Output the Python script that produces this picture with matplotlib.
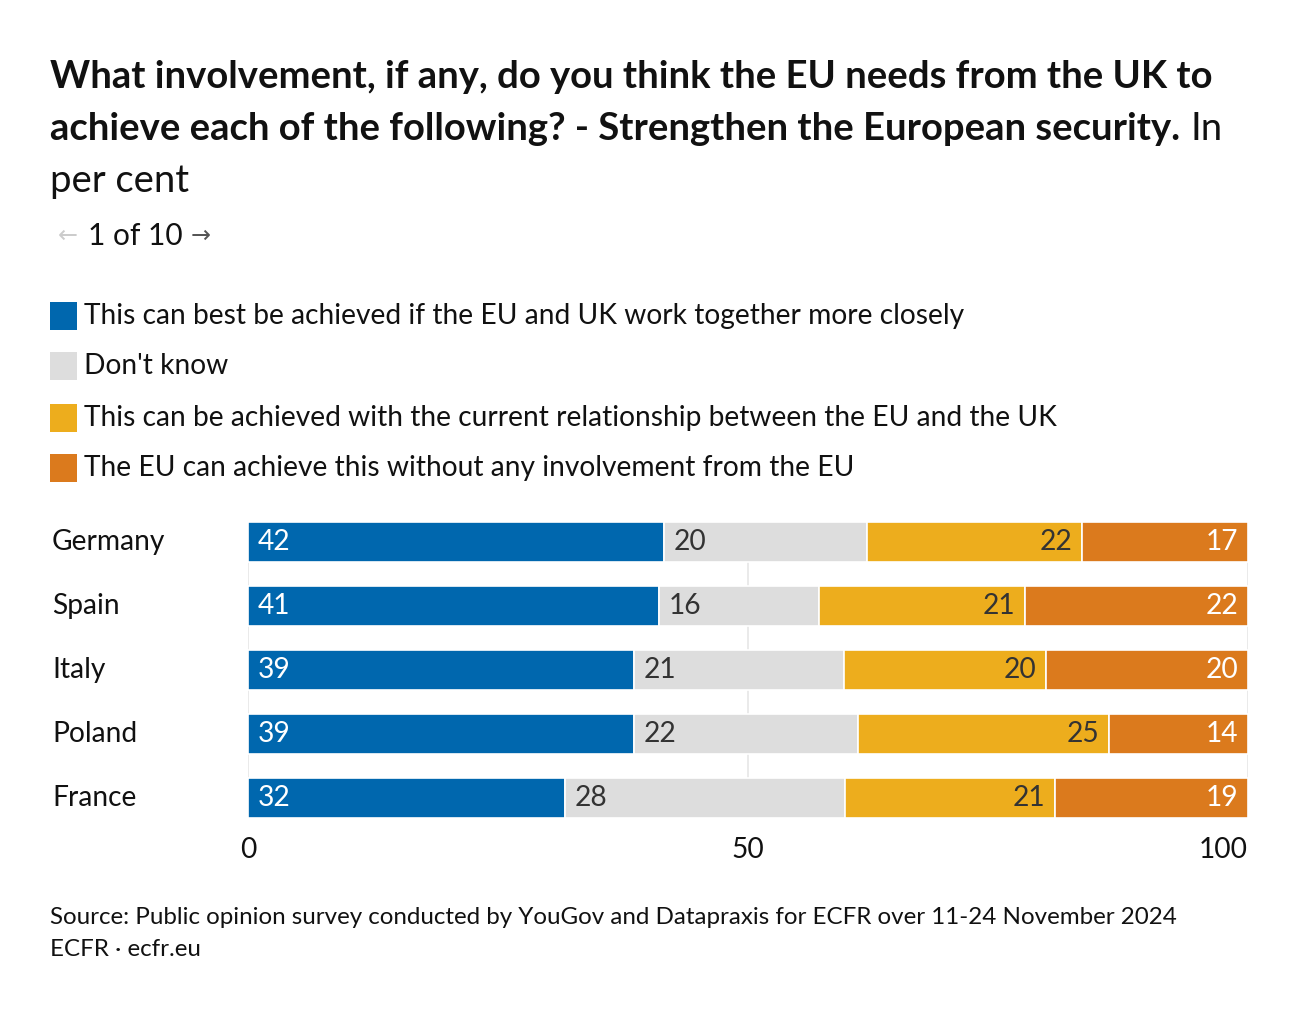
import matplotlib
matplotlib.use("Agg")
import matplotlib.pyplot as plt
import numpy as np
from matplotlib.patches import Rectangle

plt.rcParams['font.family'] = ['Lato', 'DejaVu Sans']

countries = ["Germany", "Spain", "Italy", "Poland", "France"]
series_names = [
    "This can best be achieved if the EU and UK work together more closely",
    "Don't know",
    "This can be achieved with the current relationship between the EU and the UK",
    "The EU can achieve this without any involvement from the EU",
]
closer = [41.6, 41.1, 38.6, 38.6, 31.7]
dont_know = [20.3, 16.0, 21.0, 22.4, 28.0]
current = [21.5, 20.6, 20.2, 25.1, 21.0]
without = [16.6, 22.3, 20.2, 13.9, 19.3]
xticks = [0, 50, 100]

title_bold_1 = "What involvement, if any, do you think the EU needs from the UK to"
title_bold_2 = "achieve each of the following? - Strengthen the European security."
title_reg = "In"
title_reg_2 = "per cent"
pager = "1 of 10"
source = "Source: Public opinion survey conducted by YouGov and Datapraxis for ECFR over 11-24 November 2024"
credit = "ECFR · ecfr.eu"

colors = ["#0067AE", "#DDDDDD", "#EDAD1D", "#DB7A1D"]
label_colors = ["white", "#333333", "#333333", "white"]
TXT = "#111111"

W, H = 1300, 1016
fig = plt.figure(figsize=(W / 100, H / 100), dpi=100)
renderer = fig.canvas.get_renderer()

def px(x, y):
    return x / W, 1 - y / H

def width_px(t):
    return t.get_window_extent(renderer=renderer).width

def fit_size(s, target, weight="normal", base=20):
    t = fig.text(0, 0, s, fontsize=base, fontweight=weight)
    w = width_px(t)
    t.remove()
    return base * target / w

# Title
ts = fit_size(title_bold_1, 1162, weight="bold")
fig.text(*px(50, 77), title_bold_1, fontsize=ts, fontweight="bold", color=TXT, va="center", ha="left")
t2 = fig.text(*px(50, 129), title_bold_2, fontsize=ts, fontweight="bold", color=TXT, va="center", ha="left")
w2 = width_px(t2)
fig.text((50 + w2 + 10) / W, 1 - 129 / H, title_reg, fontsize=ts, color=TXT, va="center", ha="left")
fig.text(*px(50, 181), title_reg_2, fontsize=ts, color=TXT, va="center", ha="left")

# Pager
ps = ts * 0.78
a1 = fig.text(*px(58, 236), "←", fontsize=ps * 0.8, color="#cccccc", va="center", ha="left",
              family="DejaVu Sans")
pt = fig.text(*px(88, 236), pager, fontsize=ps, color=TXT, va="center", ha="left")
wp = width_px(pt)
fig.text((88 + wp + 8) / W, 1 - 236 / H, "→", fontsize=ps * 0.8, color="#555555", va="center",
         ha="left", family="DejaVu Sans")

# Legend
ls = fit_size(series_names[0], 879)
leg_y = [316, 366, 418, 468]
for name, c, y in zip(series_names, colors, leg_y):
    fig.patches.append(Rectangle(px(50, y + 14), 27 / W, 28 / H, transform=fig.transFigure,
                                 facecolor=c, edgecolor="none"))
    fig.text(*px(84, y), name, fontsize=ls, color=TXT, va="center", ha="left")

# Bars
left, right = 248, 1248
top, bottom = 522, 818
ax = fig.add_axes([left / W, 1 - bottom / H, (right - left) / W, (bottom - top) / H])
y = np.arange(len(countries))
data = [closer, dont_know, current, without]
starts = np.zeros(len(countries))
for k, (vals, c) in enumerate(zip(data, colors)):
    vals = np.array(vals)
    ax.barh(y, vals, left=starts, height=0.625, color=c, edgecolor="white", linewidth=1.2, zorder=2)
    for i in range(len(countries)):
        v = vals[i]
        if k < 2:
            ax.text(starts[i] + 1.0, y[i], f"{int(v + 0.5):d}", ha="left", va="center",
                    fontsize=ls * 1.0, color=label_colors[k], zorder=3)
        else:
            ax.text(starts[i] + v - 1.0, y[i], f"{int(v + 0.5):d}", ha="right", va="center",
                    fontsize=ls * 1.0, color=label_colors[k], zorder=3)
    starts = starts + vals

ax.set_xlim(0, 100)
ax.set_ylim(len(countries) - 1 + 0.3125, -0.3125)
ax.set_xticks(xticks)
ax.set_xticklabels([str(v) for v in xticks])
ax.set_yticks([])
for v in xticks:
    ax.axvline(v, color="#e6e6e6", linewidth=1.2, zorder=1)
for s in ax.spines.values():
    s.set_visible(False)
ax.tick_params(axis="x", length=0, pad=14, labelsize=ls, labelcolor=TXT)
labels = ax.get_xticklabels()
labels[-1].set_ha("right")

for i, c in enumerate(countries):
    fig.text(*px(52, 542 + 64 * i), c, fontsize=ls, color=TXT, va="center", ha="left")

# Footer
fs = fit_size(source, 1128)
fig.text(*px(50, 917), source, fontsize=fs, color=TXT, va="center", ha="left")
fig.text(*px(50, 949), credit, fontsize=fs, color=TXT, va="center", ha="left")

fig.savefig("out.png", dpi=100, facecolor="white")
